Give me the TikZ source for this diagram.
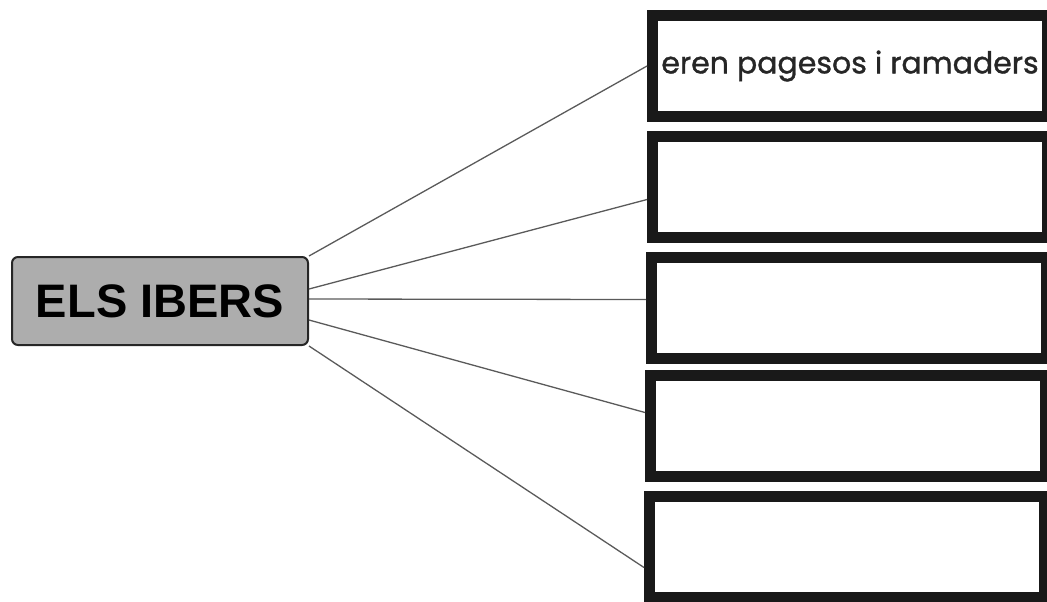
\documentclass[tikz,border=0pt]{standalone}
\usepackage{fontspec}
\setmainfont{Liberation Sans}
\newfontfamily\gothic[FakeBold=1.2]{Poppins}
\definecolor{boxgray}{HTML}{ADADAD}
\definecolor{linegray}{HTML}{5A5A5A}
\begin{document}
\begin{tikzpicture}[x=0.5pt, y=-0.5pt,
  topic/.style={draw=black!85, line width=1pt, fill=boxgray, rounded corners=3pt, minimum width=148pt, minimum height=44pt, inner sep=0pt, font=\bfseries\fontsize{23.5}{28}\selectfont},
  answer/.style={draw=black!90, line width=5.5pt, fill=white, minimum width=197.5pt, minimum height=50.5pt, inner sep=0pt, font=\gothic\fontsize{15}{18}\selectfont, text=black!85},
  link/.style={draw=linegray, line width=0.65pt}]
\useasboundingbox (0,0) rectangle (1047,601);
\node[topic] (N0) at (160,301) {ELS IBERS};
\node[answer] (N1) at (850,66) {eren pagesos i ramaders};
\node[answer] (N2) at (850,186.5) {};
\node[answer] (N3) at (849,307.5) {};
\node[answer] (N4) at (848,425.5) {};
\node[answer] (N5) at (847,546.5) {};
\draw[link] (N0.north east) -- (N1.west);
\draw[link] ([yshift=6pt]N0.east) -- ([yshift=-6.5pt]N2.west);
\draw[link] ([yshift=1pt]N0.east) -- ([yshift=4pt]N3.west);
\draw[link] ([yshift=-9.5pt]N0.east) -- ([yshift=6.5pt]N4.west);
\draw[link] (N0.south east) -- ([yshift=-10.5pt]N5.west);
\end{tikzpicture}
\end{document}
